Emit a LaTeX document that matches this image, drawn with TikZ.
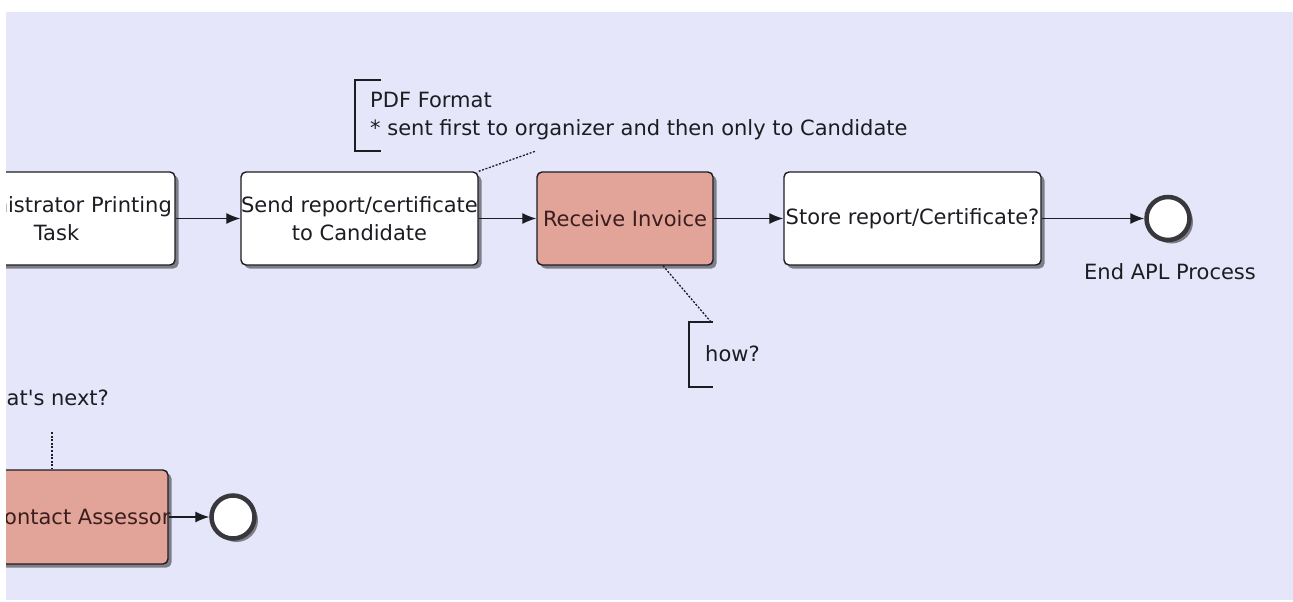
\documentclass[tikz,border=0pt]{standalone}
\usepackage{fontspec}
\setmainfont{DejaVu Sans}
\usetikzlibrary{arrows.meta,shadows}
\definecolor{canvas}{RGB}{230,230,250}
\definecolor{taskred}{RGB}{226,163,152}
\definecolor{ink}{RGB}{28,28,34}
\definecolor{redink}{RGB}{58,30,30}
\definecolor{rim}{RGB}{55,55,60}
\begin{document}
\begin{tikzpicture}[x=1pt,y=-1pt,
  every node/.style={font=\fontsize{21}{28}\selectfont, text=ink},
  shade/.style={drop shadow={shadow xshift=3.5pt, shadow yshift=-3.5pt, fill=black, opacity=0.45}},
  task/.style={draw=ink, line width=1.4pt, rounded corners=5pt, fill=white,
    minimum width=#1, minimum height=93pt, inner sep=0pt, shade},
  redtask/.style={task=#1, fill=taskred},
  intext/.style={align=center, text=ink},
  redtext/.style={align=center, text=redink},
  endevent/.style={circle, draw=rim, line width=4.5pt, fill=white,
    minimum size=43pt, inner sep=0pt, shade},
  flow/.style={draw=ink, line width=1.2pt, -{Latex[length=14pt,width=11pt]}},
  assoc/.style={draw=ink, line width=1.3pt, dash pattern=on 2pt off 1.6pt},
  bracket/.style={draw=ink, line width=1.3pt},
  note/.style={inner sep=0pt, align=left}
]
\useasboundingbox (0,0) rectangle (1293,602);
\fill[white] (0,0) rectangle (1293,602);
\fill[canvas] (6,12) rectangle (1293,600);
\begin{scope}
\clip (6,12) rectangle (1293,600);

% upper lane: tasks
\node[task=237pt, label={[intext]center:Administrator Printing\\Task}] (b1) at (56.5,218.5) {};
\node[task=237pt, label={[intext]center:Send report/certificate\\to Candidate}] (b2) at (359.5,218.5) {};
\node[redtask=176pt, label={[redtext]center:Receive Invoice}] (b3) at (625,218.5) {};
\node[task=257pt, label={[intext]center:Store report/Certificate?}] (b4) at (912.5,218.5) {};
\node[endevent] (e1) at (1168,218.5) {};
\node[inner sep=0pt] (e1lab) at (1170,272) {End APL Process};

\draw[flow] (b1.east) -- (b2.west);
\draw[flow] (b2.east) -- (b3.west);
\draw[flow] (b3.east) -- (b4.west);
\draw[flow] (b4.east) -- (e1.west);

% annotation on the sending task
\node[note, anchor=west] (n1) at (370,116) {PDF Format\\* sent first to organizer and then only to Candidate};
\draw[bracket] (381,80) -- (355,80) -- (355,151) -- (381,151);
\coordinate (n1a) at (536,151);
\draw[assoc] (b2.north east) -- (n1a);

% annotation on the invoice task
\node[note, anchor=west] (n2) at (705,354) {how?};
\draw[bracket] (713,322) -- (689,322) -- (689,387) -- (713,387);
\coordinate (n2a) at (711,322);
\draw[assoc] ([xshift=38pt]b3.south) -- (n2a);

% lower lane
\node[note, anchor=east] (n3) at (109,398) {What\textquotesingle s next?};
\coordinate (n3a) at (52,432);
\node[redtask=176pt, minimum height=94pt, label={[redtext]center:Contact Assessor}] (b5) at (80,517) {};
\draw[assoc] (n3a) -- (n3a |- b5.north);
\node[endevent] (e2) at (233,517) {};
\draw[flow] (b5.east) -- (e2.west);
\end{scope}
\end{tikzpicture}
\end{document}
